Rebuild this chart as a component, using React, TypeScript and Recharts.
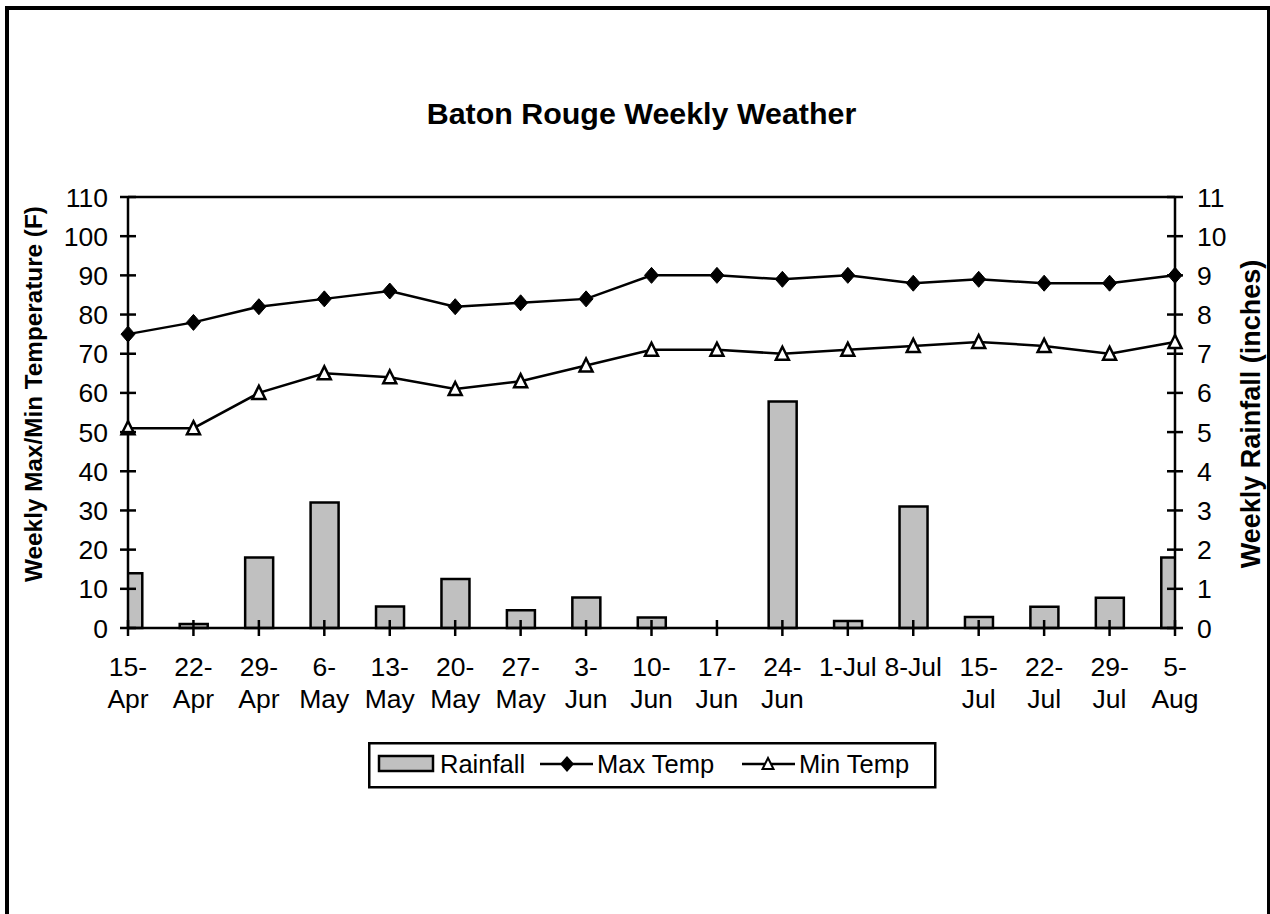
import { ComposedChart, Bar, Line, XAxis, YAxis, ReferenceLine } from 'recharts';

const weeks = [
  '15-\nApr', '22-\nApr', '29-\nApr', '6-\nMay', '13-\nMay', '20-\nMay', '27-\nMay',
  '3-\nJun', '10-\nJun', '17-\nJun', '24-\nJun', '1-Jul', '8-Jul',
  '15-\nJul', '22-\nJul', '29-\nJul', '5-\nAug',
];
const rainfall = [1.4, 0.1, 1.8, 3.2, 0.55, 1.25, 0.45, 0.78, 0.27, 0, 5.78, 0.18, 3.1, 0.28, 0.54, 0.77, 1.8];
const maxTemp = [75, 78, 82, 84, 86, 82, 83, 84, 90, 90, 89, 90, 88, 89, 88, 88, 90];
const minTemp = [51, 51, 60, 65, 64, 61, 63, 67, 71, 71, 70, 71, 72, 73, 72, 70, 73];
const tempTicks = [0, 10, 20, 30, 40, 50, 60, 70, 80, 90, 100, 110];
const rainTicks = [0, 1, 2, 3, 4, 5, 6, 7, 8, 9, 10, 11];

const data = weeks.map((w, i) => ({
  idx: i,
  rain: rainfall[i],
  max: maxTemp[i],
  min: minTemp[i],
}));
const idxTicks = weeks.map((_, i) => i);

const FONT = "'Liberation Sans', Arial, sans-serif";
const TICK_FS = 26.5;

const LeftTick = (p: any) => (
  <g>
    <line x1={p.x - 8} x2={p.x + 8} y1={p.y} y2={p.y} stroke="#000" strokeWidth={2.5} />
    <text x={p.x - 20} y={p.y} dy="0.36em" textAnchor="end" fontSize={TICK_FS} fill="#000">
      {p.payload.value}
    </text>
  </g>
);

const RightTick = (p: any) => (
  <g>
    <line x1={p.x - 8} x2={p.x + 8} y1={p.y} y2={p.y} stroke="#000" strokeWidth={2.5} />
    <text x={p.x + 22} y={p.y} dy="0.36em" textAnchor="start" fontSize={TICK_FS} fill="#000">
      {p.payload.value}
    </text>
  </g>
);

const BottomTick = (p: any) => {
  const lines = weeks[p.payload.value].split('\n');
  return (
    <g>
      <line x1={p.x} x2={p.x} y1={p.y - 8} y2={p.y + 8} stroke="#000" strokeWidth={2.5} />
      {lines.map((t, i) => (
        <text key={i} x={p.x} y={p.y + 48 + i * 32} textAnchor="middle" fontSize={TICK_FS} fill="#000">
          {t}
        </text>
      ))}
    </g>
  );
};

const Diamond = (p: any) => (
  <path
    key={`dm-${p.index}`}
    d={`M${p.cx},${p.cy - 8} L${p.cx + 7},${p.cy} L${p.cx},${p.cy + 8} L${p.cx - 7},${p.cy} Z`}
    fill="#000"
    stroke="#000"
  />
);

const Triangle = (p: any) => (
  <path
    key={`tr-${p.index}`}
    d={`M${p.cx},${p.cy - 7} L${p.cx + 6.5},${p.cy + 6} L${p.cx - 6.5},${p.cy + 6} Z`}
    fill="#fff"
    stroke="#000"
    strokeWidth={2.5}
  />
);

export default function App() {
  return (
    <div
      style={{
        position: 'absolute',
        left: 0,
        top: 0,
        width: 1270,
        height: 914,
        overflow: 'hidden',
        background: '#fff',
        fontFamily: FONT,
      }}
    >
      <div
        style={{
          position: 'absolute',
          left: 5,
          top: 6,
          width: 1265,
          height: 1000,
          borderLeft: '4px solid #000',
          borderTop: '4px solid #000',
          borderRight: '3px solid #000',
          boxSizing: 'border-box',
        }}
      />
      <div
        style={{
          position: 'absolute',
          left: 0,
          width: 1283,
          top: 95,
          textAlign: 'center',
          fontWeight: 'bold',
          fontSize: 30.4,
          lineHeight: '36px',
        }}
      >
        Baton Rouge Weekly Weather
      </div>
      <div
        style={{
          position: 'absolute',
          left: 34,
          top: 394,
          transform: 'translate(-50%, -50%) rotate(-90deg)',
          whiteSpace: 'nowrap',
          fontWeight: 'bold',
          fontSize: 24.3,
        }}
      >
        Weekly Max/Min Temperature (F)
      </div>
      <div
        style={{
          position: 'absolute',
          left: 1251,
          top: 414,
          transform: 'translate(-50%, -50%) rotate(-90deg)',
          whiteSpace: 'nowrap',
          fontWeight: 'bold',
          fontSize: 27,
        }}
      >
        Weekly Rainfall (inches)
      </div>
      <div style={{ position: 'absolute', left: 0, top: 0 }}>
        <ComposedChart width={1270} height={914} data={data} margin={{ top: 197, right: 0, bottom: 226, left: 0 }}>
          <XAxis
            dataKey="idx"
            type="number"
            domain={[0, 16]}
            ticks={idxTicks}
            interval={0}
            height={60}
            tickSize={0}
            tickMargin={0}
            tickLine={false}
            axisLine={{ stroke: '#000', strokeWidth: 2.5 }}
            tick={BottomTick}
          />
          <XAxis xAxisId="bars" dataKey="idx" type="number" domain={[0, 16]} allowDataOverflow hide />
          <YAxis
            yAxisId="left"
            width={128}
            domain={[0, 110]}
            ticks={tempTicks}
            interval={0}
            tickSize={0}
            tickMargin={0}
            tickLine={false}
            axisLine={{ stroke: '#000', strokeWidth: 2.5 }}
            tick={LeftTick}
          />
          <YAxis
            yAxisId="right"
            orientation="right"
            width={95}
            domain={[0, 11]}
            ticks={rainTicks}
            interval={0}
            tickSize={0}
            tickMargin={0}
            tickLine={false}
            axisLine={{ stroke: '#000', strokeWidth: 2.5 }}
            tick={RightTick}
          />
          <ReferenceLine yAxisId="left" y={110} stroke="#000" strokeWidth={2.5} />
          <Bar
            xAxisId="bars"
            yAxisId="right"
            dataKey="rain"
            barSize={28}
            fill="#C0C0C0"
            stroke="#000"
            strokeWidth={2.5}
            isAnimationActive={false}
          />
          <Line
            yAxisId="left"
            dataKey="max"
            type="linear"
            stroke="#000"
            strokeWidth={2.5}
            dot={Diamond}
            activeDot={false}
            isAnimationActive={false}
          />
          <Line
            yAxisId="left"
            dataKey="min"
            type="linear"
            stroke="#000"
            strokeWidth={2.5}
            dot={Triangle}
            activeDot={false}
            isAnimationActive={false}
          />
        </ComposedChart>
      </div>
      <svg style={{ position: 'absolute', left: 368, top: 742 }} width={570} height={48}>
        <rect x={1.25} y={1.25} width={566} height={44} fill="#fff" stroke="#000" strokeWidth={2.5} />
        <rect x={11} y={14} width={54} height={15} fill="#C0C0C0" stroke="#000" strokeWidth={2.5} />
        <text x={72} y={31} fontSize={25.5} fill="#000">Rainfall</text>
        <line x1={172} x2={225} y1={22} y2={22} stroke="#000" strokeWidth={2.5} />
        <path d="M199,14 L206,22 L199,30 L192,22 Z" fill="#000" />
        <text x={229} y={31} fontSize={25.5} fill="#000">Max Temp</text>
        <line x1={374} x2={427} y1={22} y2={22} stroke="#000" strokeWidth={2.5} />
        <path d="M400,16 L405.5,27 L394.5,27 Z" fill="#fff" stroke="#000" strokeWidth={2} />
        <text x={431} y={31} fontSize={25.5} fill="#000">Min Temp</text>
      </svg>
    </div>
  );
}
